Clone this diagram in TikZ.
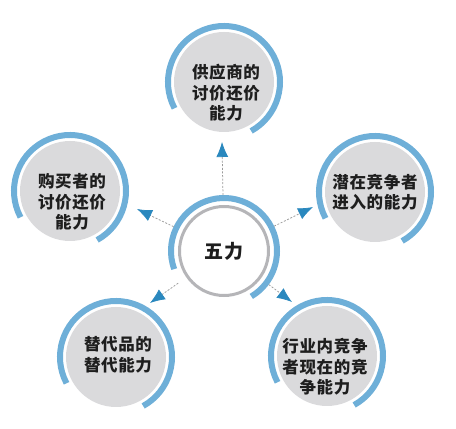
\documentclass[tikz,border=0pt]{standalone}
\usepackage{fontspec}
\newfontfamily\cjk[LetterSpace=4]{Noto Sans CJK SC}
\usetikzlibrary{arrows.meta}
\definecolor{ringblue}{HTML}{6EAFD8}
\definecolor{tipblue}{HTML}{2A88BE}
\definecolor{diskgrey}{HTML}{DADADC}
\definecolor{ringgrey}{HTML}{B5B5B8}
\definecolor{txt}{HTML}{1E1E1E}
\tikzset{
  disk/.style={circle, fill=diskgrey, draw=none, minimum size=100pt, inner sep=0pt},
  hub/.style={circle, fill=white, draw=ringgrey, line width=3pt, minimum size=89pt, inner sep=0pt},
  bluearc/.style={draw=ringblue, line width=6pt},
  lbl/.style={align=center, text=txt, font=\cjk\bfseries\fontsize{16.5}{20.5}\selectfont, inner sep=0pt},
  hublbl/.style={text=txt, font=\cjk\bfseries\fontsize{19}{22}\selectfont, inner sep=0pt},
  dashline/.style={draw=gray!80, line width=0.75pt, dash pattern=on 2pt off 1.6pt,
    shorten <=10pt, -{Latex[length=15pt,width=12pt,color=tipblue]}}
}
\begin{document}
\begin{tikzpicture}[x=1pt,y=1pt]
\useasboundingbox (0,0) rectangle (456,429);
% outer disks
\node[disk] (T)  at (224,347) {};
\node[disk] (L)  at (70,238)  {};
\node[disk] (R)  at (375,237) {};
\node[disk] (BL) at (116,72)  {};
\node[disk] (BR) at (327,73)  {};
% blue arcs
\foreach \n in {T,L,R,BL,BR}{
  \draw[bluearc] ([shift={(208:56)}]\n.center) arc[start angle=208, end angle=-61, radius=56];
}
% hub
\node[hub] (C) at (224,178) {};
\draw[bluearc] ([shift={(200:53)}]C.center) arc[start angle=200, end angle=-59, radius=53];
\node[hublbl] (Ct) at (C.center) {五力};
% texts
\node[lbl] (Tt)  at (226,336) {供应商的\\讨价还价\\能力};
\node[lbl] (Lt)  at (72,227)  {购买者的\\讨价还价\\能力};
\node[lbl] (Rt)  at (375,237) {潜在竞争者\\进入的能力};
\node[lbl] (BLt) at (118,74)  {替代品的\\替代能力};
\node[lbl] (BRt) at (325,62)  {行业内竞争\\者现在的竞\\争能力};
% arrow tips
\coordinate (tT)  at (222,287);
\coordinate (tL)  at (137,220);
\coordinate (tR)  at (313,222);
\coordinate (tBL) at (150,126);
\coordinate (tBR) at (292,127);
\foreach \t in {tT,tL,tR,tBL,tBR}{
  \draw[dashline] (C) -- (\t);
}
\end{tikzpicture}
\end{document}
